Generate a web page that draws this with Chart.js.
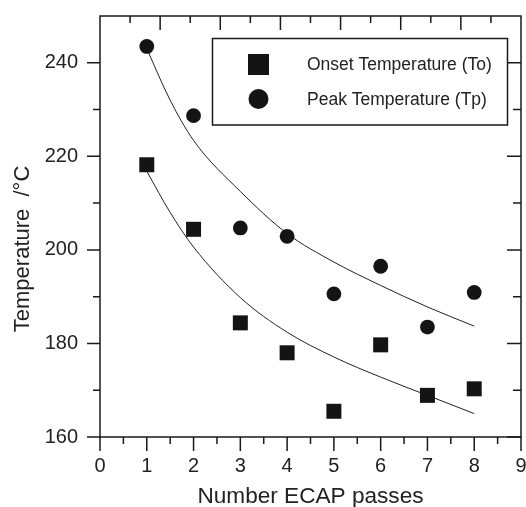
<!DOCTYPE html>
<html>
<head>
<meta charset="utf-8">
<script src="https://cdn.jsdelivr.net/npm/chart.js@4.4.1/dist/chart.umd.min.js"></script>
<style>
  html, body { margin: 0; padding: 0; background: #fff; }
  #wrap { width: 526px; height: 507px; }
</style>
</head>
<body>
<div id="wrap"><canvas id="chart"></canvas></div>
<script>
// measured points
const passes = [1, 2, 3, 4, 5, 6, 7, 8];
const onsetTemp = [218.2, 204.4, 184.4, 178.0, 165.5, 179.7, 168.9, 170.3];
const peakTemp = [243.5, 228.7, 204.7, 202.9, 190.6, 196.5, 183.5, 190.9];

// fitted curves
const fitPasses = [1, 1.5, 2, 3, 4, 5, 6, 7, 8];
const onsetFit = [216.8, 208.0, 200.6, 189.8, 182.4, 177.1, 172.8, 168.9, 165.0];
const peakFit = [243.0, 232.0, 223.4, 212.5, 203.5, 197.4, 192.4, 187.8, 183.7];

const xTickValues = [0, 1, 2, 3, 4, 5, 6, 7, 8, 9];
const yTickValues = [160, 180, 200, 220, 240];

const seriesLabels = ['Onset Temperature (To)', 'Peak Temperature (Tp)'];
const yTitle = 'Temperature  /°C';

const INK = '#141414';
const FONT = "'Liberation Sans', Arial, Helvetica, sans-serif";

const toPoints = (xs, ys) => xs.map((x, i) => ({ x, y: ys[i] }));

// frame with ticks on all four sides
const frameTicks = {
  id: 'frameTicks',
  afterDatasetsDraw(chart) {
    const { ctx, chartArea: a, scales } = chart;
    const { x, y, xTop } = scales;
    ctx.save();
    ctx.strokeStyle = '#1a1a1a';
    ctx.lineWidth = 1.5;
    ctx.strokeRect(a.left, a.top, a.right - a.left, a.bottom - a.top);
    ctx.beginPath();
    // bottom, outward, every half pass
    for (let v = x.min; v <= x.max + 1e-9; v += 0.5) {
      const px = x.getPixelForValue(v);
      const len = Number.isInteger(v) ? 14 : 7;
      ctx.moveTo(px, a.bottom);
      ctx.lineTo(px, a.bottom + len);
    }
    // top, inward, its own spacing
    for (let v = xTop.min + 1; v < xTop.max; v += 1) {
      const px = xTop.getPixelForValue(v);
      const len = v % 2 === 0 ? 14 : 7;
      ctx.moveTo(px, a.top);
      ctx.lineTo(px, a.top + len);
    }
    // left outward, right inward
    for (let v = y.min; v < y.max; v += 10) {
      const py = y.getPixelForValue(v);
      const major = v % 20 === 0;
      ctx.moveTo(a.left, py);
      ctx.lineTo(a.left - (major ? 13 : 7), py);
      ctx.moveTo(a.right, py);
      ctx.lineTo(a.right - (major ? 14 : 8), py);
    }
    ctx.stroke();

    // y title sits a bit below the middle of the axis
    ctx.translate(23, y.getPixelForValue(200.2));
    ctx.rotate(-Math.PI / 2);
    ctx.fillStyle = '#222';
    ctx.font = `22px ${FONT}`;
    ctx.textAlign = 'center';
    ctx.textBaseline = 'middle';
    ctx.fillText(yTitle, 0, 0);
    ctx.restore();
  }
};

// boxed legend inside the plot
const boxLegend = {
  id: 'boxLegend',
  afterDraw(chart) {
    const { ctx } = chart;
    ctx.save();
    ctx.strokeStyle = '#1a1a1a';
    ctx.lineWidth = 1.5;
    ctx.strokeRect(212.5, 38.5, 295, 86.5);
    ctx.fillStyle = INK;
    ctx.fillRect(248, 54, 21, 21);
    ctx.beginPath();
    ctx.arc(258.5, 99, 10, 0, Math.PI * 2);
    ctx.fill();
    ctx.fillStyle = '#222';
    ctx.font = `17.5px ${FONT}`;
    ctx.textBaseline = 'middle';
    ctx.fillText(seriesLabels[0], 307, 65);
    ctx.fillText(seriesLabels[1], 307, 100);
    ctx.restore();
  }
};

new Chart(document.getElementById('chart'), {
  type: 'scatter',
  data: {
    datasets: [
      {
        label: seriesLabels[0],
        data: toPoints(passes, onsetTemp),
        pointStyle: 'rect',
        pointRadius: 10.6,
        pointHoverRadius: 10.6,
        backgroundColor: INK,
        borderWidth: 0
      },
      {
        label: seriesLabels[1],
        data: toPoints(passes, peakTemp),
        pointStyle: 'circle',
        pointRadius: 7.4,
        pointHoverRadius: 7.4,
        backgroundColor: INK,
        borderWidth: 0
      },
      {
        label: 'onset fit',
        data: toPoints(fitPasses, onsetFit),
        showLine: true,
        pointRadius: 0,
        borderColor: '#222',
        borderWidth: 1,
        cubicInterpolationMode: 'monotone'
      },
      {
        label: 'peak fit',
        data: toPoints(fitPasses, peakFit),
        showLine: true,
        pointRadius: 0,
        borderColor: '#222',
        borderWidth: 1,
        cubicInterpolationMode: 'monotone'
      }
    ]
  },
  options: {
    responsive: true,
    maintainAspectRatio: false,
    animation: false,
    layout: { autoPadding: false, padding: { top: 16, right: 5, left: 0, bottom: 0 } },
    plugins: {
      legend: { display: false },
      tooltip: { enabled: false }
    },
    scales: {
      x: {
        type: 'linear',
        min: 0,
        max: 9,
        grid: { display: false, drawTicks: false },
        border: { display: false },
        afterBuildTicks: s => { s.ticks = xTickValues.map(v => ({ value: v })); },
        afterFit: s => { s.height = 70; s.paddingLeft = 0; s.paddingRight = 0; },
        ticks: {
          padding: 17,
          color: '#222',
          maxRotation: 0,
          autoSkip: false,
          font: { family: FONT, size: 20 }
        },
        title: {
          display: true,
          text: 'Number ECAP passes',
          color: '#222',
          font: { family: FONT, size: 22.6, lineHeight: 1 },
          padding: { top: 0, bottom: -1 }
        }
      },
      xTop: {
        type: 'linear',
        position: 'top',
        min: 0,
        max: 14,
        display: false
      },
      y: {
        type: 'linear',
        min: 160,
        max: 250,
        grid: { display: false, drawTicks: false },
        border: { display: false },
        afterBuildTicks: s => { s.ticks = yTickValues.map(v => ({ value: v })); },
        afterFit: s => { s.width = 100; s.paddingTop = 0; s.paddingBottom = 0; },
        ticks: {
          padding: 22,
          color: '#222',
          autoSkip: false,
          font: { family: FONT, size: 20 }
        }
      }
    }
  },
  plugins: [frameTicks, boxLegend]
});
</script>
</body>
</html>
